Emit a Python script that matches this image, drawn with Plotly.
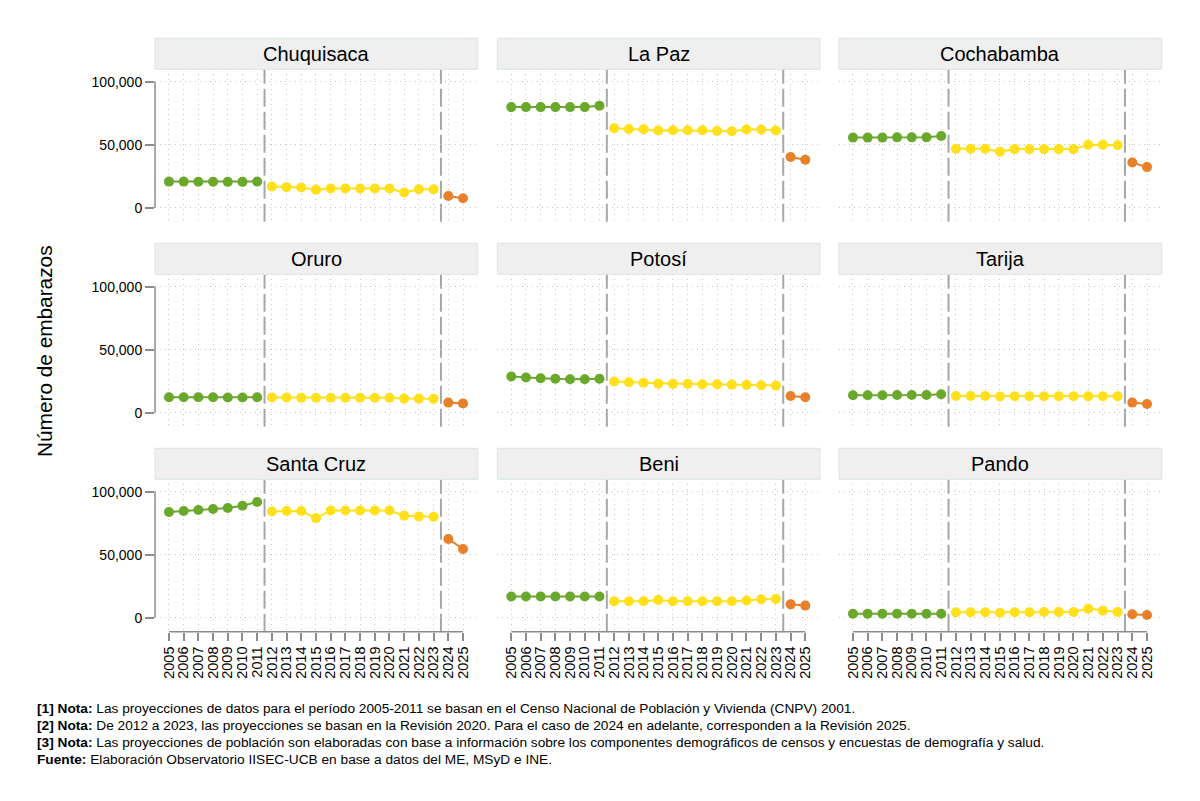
import subprocess
import plotly.graph_objects as go

departments = ["Chuquisaca", "La Paz", "Cochabamba", "Oruro", "Potosí", "Tarija",
               "Santa Cruz", "Beni", "Pando"]
years = list(range(2005, 2026))
period_a = list(range(2005, 2012))   # CNPV 2001
period_b = list(range(2012, 2024))   # Revisión 2020
period_c = [2024, 2025]              # Revisión 2025
y_ticks = [0, 50000, 100000]
y_ticktext = ["0", "50,000", "100,000"]

chuquisaca = [20700, 20700, 20600, 20600, 20500, 20500, 20700,
              16800, 16300, 16000, 14200, 15300, 15300, 15300, 15300, 15200, 12000, 14600, 14600,
              9300, 7500]
la_paz = [79800, 79800, 79800, 79800, 79800, 79800, 80900,
          63000, 62500, 62200, 61200, 61400, 61400, 61400, 60900, 60600, 62000, 62000, 61200,
          40200, 38000]
cochabamba = [55600, 55600, 55600, 55800, 55800, 55800, 56900,
              46800, 46800, 46800, 44400, 46500, 46500, 46500, 46500, 46500, 50000, 50000, 49500,
              35900, 32200]
oruro = [12300, 12300, 12200, 12200, 12100, 12100, 12200,
         12000, 12000, 11900, 11800, 11800, 11800, 11800, 11800, 11800, 11200, 11200, 11000,
         8000, 7400]
potosi = [28700, 27900, 27400, 26900, 26600, 26600, 26900,
          24700, 24200, 23700, 23100, 22900, 22900, 22600, 22600, 22300, 22100, 21800, 21500,
          13300, 12200]
tarija = [13800, 13800, 13800, 14100, 14100, 14100, 14600,
          13300, 13300, 13300, 12800, 13000, 13000, 13000, 13000, 13000, 13000, 13000, 13000,
          8000, 6900]
santa_cruz = [83800, 84600, 85400, 86200, 87000, 88800, 91800,
              84300, 84600, 84600, 79000, 85100, 85100, 85100, 85100, 85100, 80900, 80300, 80100,
              62500, 54500]
beni = [16800, 16800, 16800, 16800, 16800, 16800, 16800,
        13000, 13000, 13000, 14100, 13000, 13000, 13000, 13000, 13000, 13600, 14600, 14900,
        10600, 9600]
pando = [3200, 3200, 3200, 3200, 3200, 3200, 3200,
         4300, 4300, 4300, 4000, 4300, 4300, 4500, 4500, 4500, 7200, 5600, 4500,
         2700, 2100]
series = [chuquisaca, la_paz, cochabamba, oruro, potosi, tarija, santa_cruz, beni, pando]

notes = [
    "<b>[1] Nota:</b> Las proyecciones de datos para el período 2005-2011 se basan en el Censo Nacional de Población y Vivienda (CNPV) 2001.",
    "<b>[2] Nota:</b> De 2012 a 2023, las proyecciones se basan en la Revisión 2020. Para el caso de 2024 en adelante, corresponden a la Revisión 2025.",
    "<b>[3] Nota:</b> Las proyecciones de población son elaboradas con base a información sobre los componentes demográficos de censos y encuestas de demografía y salud.",
    "<b>Fuente:</b> Elaboración Observatorio IISEC-UCB en base a datos del ME, MSyD e INE.",
]

period_colors = ["#69a82b", "#ffe01a", "#e8802a"]
periods = [period_a, period_b, period_c]

# font choice: a condensed sans if available, otherwise regular Liberation Sans
try:
    fams = subprocess.run(["fc-list", ":", "family"], capture_output=True, text=True).stdout
except Exception:
    fams = ""
if "Liberation Sans Narrow" in fams:
    FONT = "Liberation Sans Narrow"
    SZ = dict(strip=24, ytitle=24.5, ytick=17, xtick=16.5, notes=16.5)
else:
    FONT = "Liberation Sans, Arial, sans-serif"
    SZ = dict(strip=20, ytitle=20.8, ytick=14, xtick=14.5, notes=13.7)

W, H = 1200, 801
col_x0 = [155.0, 497.3, 839.0]
col_w = 322.7
strip_top0, strip_bot0 = 38.3, 69.3
plot_bot0 = 221.7
row_step = 205.0

fig = go.Figure()
shapes = []
annotations = []

for i, (name, vals) in enumerate(zip(departments, series)):
    r, c = divmod(i, 3)
    k = i + 1
    xs = "" if k == 1 else str(k)
    xa, ya = "x" + xs, "y" + xs
    for per, col in zip(periods, period_colors):
        px = [y for y in years if y in per]
        py = [v for y, v in zip(years, vals) if y in per]
        fig.add_trace(go.Scatter(x=px, y=py, mode="lines+markers", xaxis=xa, yaxis=ya,
                                 line=dict(color=col, width=2),
                                 marker=dict(color=col, size=10),
                                 showlegend=False, hoverinfo="x+y"))
    x0 = col_x0[c]
    x1 = x0 + col_w
    top = strip_bot0 + row_step * r
    bot = plot_bot0 + row_step * r
    st_top = strip_top0 + row_step * r
    st_bot = strip_bot0 + row_step * r
    bottom_row = (r == 2)
    left_col = (c == 0)
    fig.update_layout(**{
        "xaxis" + xs: dict(domain=[x0 / W, x1 / W], anchor=ya, range=[2004.05, 2026.0],
                           tickvals=years, ticktext=[str(y) for y in years],
                           showticklabels=bottom_row, ticks="outside" if bottom_row else "",
                           ticklen=8, tickwidth=1.5, tickcolor="#8c8c8c", tickangle=-90,
                           tickfont=dict(family=FONT, size=SZ["xtick"], color="black"),
                           showgrid=True, gridcolor="#c4c4c4", griddash="1px,4px", gridwidth=1,
                           zeroline=False, showline=False, fixedrange=True),
        "yaxis" + xs: dict(domain=[1 - bot / H, 1 - top / H], anchor=xa, range=[-11100, 109800],
                           tickvals=y_ticks, ticktext=y_ticktext,
                           showticklabels=left_col, ticks="outside" if left_col else "",
                           ticklen=9, tickwidth=1.5, tickcolor="#8c8c8c",
                           tickfont=dict(family=FONT, size=SZ["ytick"], color="black"),
                           showgrid=True, gridcolor="#c4c4c4", griddash="1px,4px", gridwidth=1,
                           zeroline=False, showline=False, fixedrange=True),
    })
    # strip header
    shapes.append(dict(type="rect", xref="paper", yref="paper", x0=x0 / W, x1=x1 / W,
                       y0=1 - st_bot / H, y1=1 - st_top / H, fillcolor="#efefef",
                       line=dict(color="#d8e4ea", width=1), layer="above"))
    annotations.append(dict(text=name, xref="paper", yref="paper", x=(x0 + x1) / 2 / W,
                            y=1 - (st_top + st_bot) / 2 / H, xanchor="center", yanchor="middle",
                            showarrow=False, font=dict(family=FONT, size=SZ["strip"], color="black")))
    # period dividers
    for xv in [2011.5, 2023.5]:
        shapes.append(dict(type="line", xref=xa, yref=ya + " domain", x0=xv, x1=xv, y0=0, y1=1,
                           line=dict(color="#a6a6a6", width=2, dash="18px,5px"), layer="below"))
    if left_col:
        shapes.append(dict(type="line", xref=xa + " domain", yref=ya, x0=0, x1=0,
                           y0=y_ticks[0], y1=y_ticks[-1], line=dict(color="#8c8c8c", width=1.5)))
    if bottom_row:
        shapes.append(dict(type="line", xref=xa, yref=ya + " domain", x0=years[0], x1=years[-1],
                           y0=0, y1=0, line=dict(color="#8c8c8c", width=1.5)))

annotations.append(dict(text="Número de embarazos", xref="paper", yref="paper",
                        x=45 / W, y=1 - 351 / H, textangle=-90, xanchor="center", yanchor="middle",
                        showarrow=False, font=dict(family=FONT, size=SZ["ytitle"], color="black")))

note_y = [708, 725, 742, 759]
for txt, yy in zip(notes, note_y):
    annotations.append(dict(text=txt, xref="paper", yref="paper", x=35 / W, y=1 - yy / H,
                            xanchor="left", yanchor="middle", align="left", showarrow=False,
                            font=dict(family=FONT, size=SZ["notes"], color="black")))

fig.update_layout(width=W, height=H, margin=dict(l=0, r=0, t=0, b=0),
                  paper_bgcolor="white", plot_bgcolor="white", showlegend=False,
                  shapes=shapes, annotations=annotations, font=dict(family=FONT))

fig.write_html("out.html", include_plotlyjs=True, full_html=True,
               config={"displayModeBar": False, "responsive": False})
